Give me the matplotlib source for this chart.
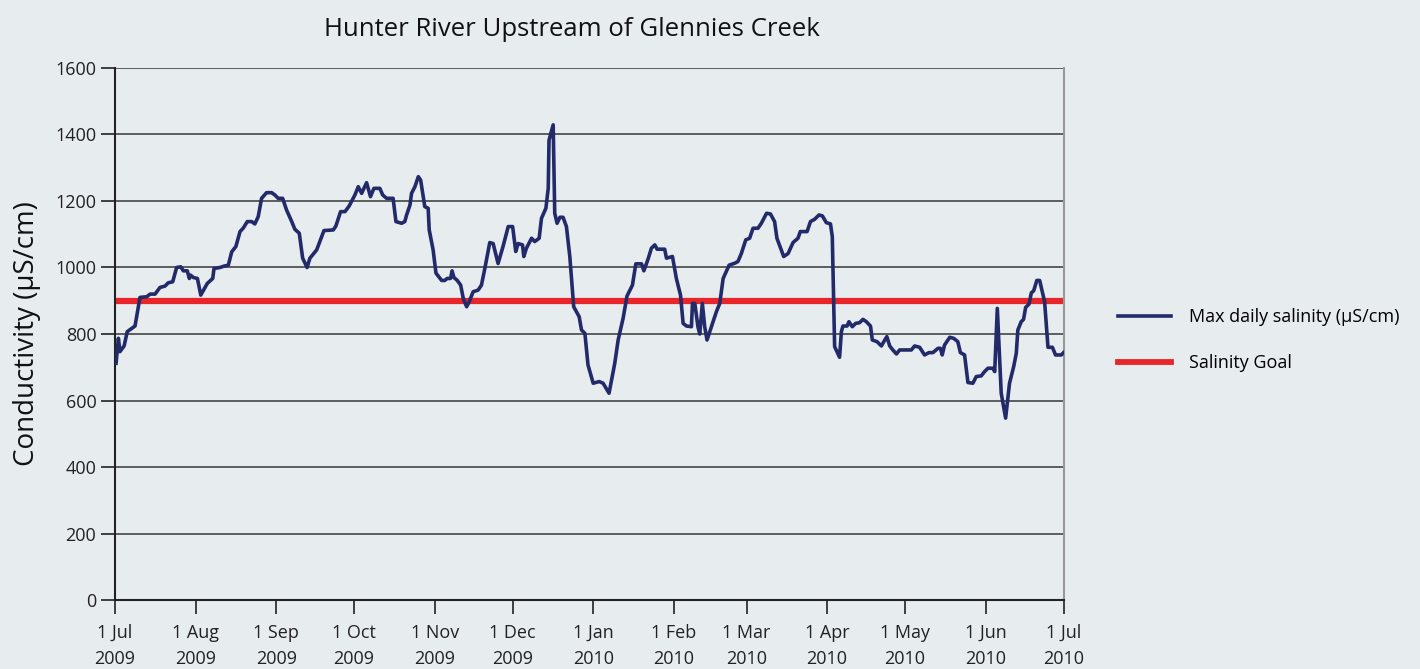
import datetime as dt
import matplotlib
matplotlib.use("Agg")
import matplotlib.pyplot as plt
import matplotlib.dates as mdates
from matplotlib.ticker import FuncFormatter

# days since 1 Jul 2009 and max daily salinity (uS/cm)
days = [0.4, 1.3, 1.9, 3.5, 4.7, 7.7, 9.6, 12.2, 13.5, 15.4, 17.3, 19.2, 20.5, 22.2,
        23.7, 25.3, 26.3, 27.8, 28.6, 29.1, 30.1, 31.7, 33.0, 35.5, 37.6, 38.1, 40.4,
        41.9, 43.6, 44.9, 46.5, 48.1, 49.3, 50.9, 52.6, 53.8, 55.1, 56.4, 58.3, 60.3,
        61.5, 62.8, 64.5, 66.0, 68.0, 69.2, 70.9, 72.2, 73.9, 75.0, 77.6, 80.4, 84.0,
        85.0, 86.8, 88.5, 90.1, 92.3, 93.6, 94.9, 96.8, 98.3, 99.6, 101.9, 103.0,
        104.5, 107.0, 108.1, 110.3, 111.5, 112.2, 113.5, 114.1, 115.4, 116.7, 117.6,
        119.2, 120.5, 120.9, 122.4, 123.5, 125.7, 126.9, 127.8, 129.1, 129.7, 130.4,
        131.7, 133.0, 134.0, 135.3, 136.3, 137.8, 139.7, 141.0, 142.3, 144.2, 145.5,
        147.4, 149.3, 151.3, 153.0, 154.2, 155.1, 156.8, 157.3, 158.3, 160.3, 161.5,
        163.2, 164.1, 165.8, 166.7, 167.0, 168.6, 169.2, 170.1, 171.2, 172.4, 173.7,
        175.0, 176.5, 178.6, 179.5, 180.8, 182.0, 184.0, 186.3, 187.8, 190.1, 192.3,
        193.6, 195.5, 197.0, 199.1, 200.4, 202.6, 203.5, 205.1, 206.4, 207.7, 208.6,
        211.5, 212.2, 214.5, 216.0, 217.6, 218.6, 219.9, 221.8, 222.2, 223.1, 224.3,
        225.0, 226.0, 226.9, 227.8, 229.5, 231.4, 232.7, 234.0, 236.3, 238.5, 239.7,
        241.0, 242.7, 244.2, 245.5, 247.4, 248.7, 250.7, 252.2, 253.8, 254.7, 257.3,
        259.0, 260.9, 262.8, 263.7, 266.3, 267.6, 269.2, 270.9, 272.2, 273.7, 275.3,
        276.0, 276.9, 278.8, 279.5, 280.1, 281.7, 282.4, 283.7, 285.0, 286.5, 287.8,
        289.1, 290.7, 291.4, 293.2, 294.9, 296.2, 297.0, 298.1, 299.3, 300.7, 301.9,
        306.4, 307.7, 309.6, 311.5, 313.2, 314.7, 316.7, 317.6, 318.3, 319.2, 321.2,
        322.7, 324.3, 325.3, 326.9, 328.2, 330.1, 331.4, 333.3, 334.6, 335.9, 337.8,
        338.5, 339.5, 341.0, 342.7, 344.2, 345.8, 346.8, 347.4, 348.7, 349.6, 350.4,
        351.7, 352.6, 353.5, 354.7, 355.8, 357.7, 359.0, 360.7, 361.9, 364.1, 365.0]
salinity = [712, 787, 747, 764, 807, 824, 910, 912, 920, 920, 940, 944, 954, 957,
            1000, 1002, 990, 990, 967, 977, 970, 967, 917, 952, 967, 997, 1000,
            1004, 1007, 1047, 1063, 1108, 1118, 1138, 1138, 1131, 1153, 1208, 1225, 1225,
            1218, 1208, 1208, 1173, 1138, 1115, 1103, 1028, 1000, 1028, 1053, 1111, 1113,
            1125, 1168, 1168, 1185, 1218, 1243, 1223, 1255, 1213, 1238, 1238, 1218,
            1208, 1208, 1138, 1133, 1138, 1158, 1188, 1223, 1243, 1273, 1263,
            1183, 1178, 1113, 1053, 983, 961, 961, 967, 967, 990, 970,
            961, 947, 907, 882, 897, 927, 932, 947, 997, 1075, 1072,
            1012, 1063, 1123, 1123, 1048, 1072, 1068, 1033, 1058, 1088, 1078,
            1088, 1148, 1178, 1238, 1383, 1429, 1163, 1133, 1151, 1151, 1123,
            1033, 882, 852, 812, 802, 707, 652, 657, 652, 622, 712,
            782, 847, 914, 947, 1011, 1011, 990, 1025, 1058, 1068, 1055,
            1055, 1028, 1033, 967, 917, 832, 824, 822, 892, 892, 822,
            800, 892, 822, 782, 822, 867, 892, 967, 1007, 1013, 1018,
            1042, 1083, 1088, 1118, 1118, 1133, 1163, 1161, 1138, 1088, 1033,
            1042, 1075, 1088, 1108, 1108, 1138, 1145, 1158, 1155, 1135, 1131,
            1093, 762, 730, 807, 824, 824, 837, 822, 832, 834, 844,
            837, 824, 782, 777, 764, 782, 792, 764, 752, 740, 752,
            752, 764, 760, 737, 744, 744, 757, 757, 737, 767, 790,
            787, 777, 744, 737, 654, 652, 672, 674, 687, 697, 697,
            687, 877, 622, 547, 652, 702, 742, 812, 837, 844, 880,
            890, 924, 930, 961, 961, 897, 760, 760, 737, 737, 744]
salinity_goal = 900

start = dt.datetime(2009, 7, 1)
x = [mdates.date2num(start + dt.timedelta(days=d)) for d in days]

bg = "#E7ECEF"
plt.rcParams["font.family"] = ["Open Sans", "DejaVu Sans"]

fig = plt.figure(figsize=(14.2, 6.69), dpi=100, facecolor=bg)
ax = fig.add_axes([0.081, 0.1031, 0.668, 0.7953], facecolor=bg)

ax.axhline(salinity_goal, color="#E8262A", lw=4.5, zorder=2, label="Salinity Goal")
ax.plot(x, salinity, color="#222A6A", lw=2.6, zorder=3, label="Max daily salinity (µS/cm)")

ax.set_xlim(mdates.date2num(start), mdates.date2num(dt.datetime(2010, 7, 1)))
ax.set_ylim(0, 1600)
ax.set_yticks(range(0, 1601, 200))
ax.yaxis.grid(True, color="#444444", lw=1.2)
ax.set_axisbelow(True)

ax.xaxis.set_major_locator(mdates.MonthLocator())
ax.xaxis.set_major_formatter(FuncFormatter(
    lambda v, p: f"{mdates.num2date(v).day} {mdates.num2date(v):%b}\n{mdates.num2date(v).year}"))

ax.tick_params(axis="both", labelsize=13, color="#222222", length=10, width=1.2,
               labelcolor="#222222")
ax.tick_params(axis="x", pad=7)
for lab in ax.get_xticklabels():
    lab.set_linespacing(1.6)

ax.spines["top"].set_visible(False)
ax.spines["left"].set_color("#222222")
ax.spines["bottom"].set_color("#222222")
ax.spines["left"].set_linewidth(1.5)
ax.spines["bottom"].set_linewidth(1.5)
ax.spines["right"].set_color("#999999")
ax.spines["right"].set_linewidth(1.5)

ax.set_ylabel("Conductivity (µS/cm)", fontsize=20, color="#111111", labelpad=10)
fig.text(572 / 1420, 1 - 30 / 669, "Hunter River Upstream of Glennies Creek",
         fontsize=18.5, color="#111111", ha="center", va="center")

handles, labels = ax.get_legend_handles_labels()
leg = fig.legend(handles[::-1], labels[::-1], loc="center left",
                 bbox_to_anchor=(0.776, 0.492), frameon=False, fontsize=13,
                 handlelength=2.9, labelspacing=1.55, handletextpad=1.0)
leg.get_lines()[0].set_linewidth(2.6)
leg.get_lines()[1].set_linewidth(4.2)

fig.savefig("out.png", dpi=100, facecolor=bg)
